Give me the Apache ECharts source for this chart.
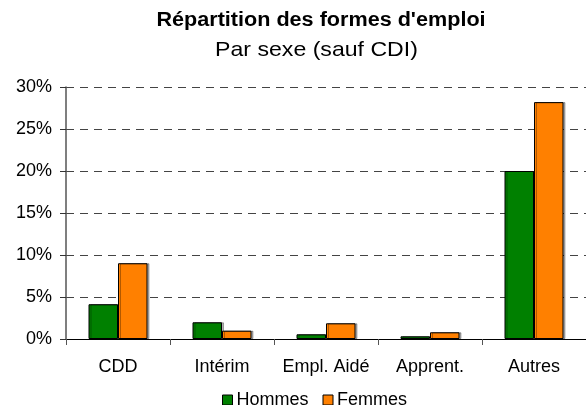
<!DOCTYPE html>
<html><head><meta charset="utf-8">
<script src="https://cdn.jsdelivr.net/npm/echarts@6/dist/echarts.min.js"></script>
<style>html,body{margin:0;padding:0;background:#fff}#c{width:586px;height:405px}</style>
</head><body><div id="c"></div>
<script>
const categories = ['CDD', 'Intérim', 'Empl. Aidé', 'Apprent.', 'Autres'];
const hommes = [4.14, 1.99, 0.56, 0.32, 20.0];
const femmes = [9.02, 0.99, 1.87, 0.8, 28.2];
const yTicks = [0, 5, 10, 15, 20, 25, 30];
const titleText = "Répartition des formes d'emploi";
const subtitleText = 'Par sexe (sauf CDI)';

const chart = echarts.init(document.getElementById('c'), null, {renderer: 'canvas'});
const font = 'Liberation Sans, Arial, sans-serif';
chart.setOption({
  animation: false,
  backgroundColor: '#fff',
  graphic: [
    {type: 'text', x: 321, y: 30, scaleX: 1.08,
     style: {text: titleText, font: 'bold 20px ' + font, fill: '#000', textAlign: 'center', textVerticalAlign: 'bottom'}},
    {type: 'text', x: 316.5, y: 61, scaleX: 1.1,
     style: {text: subtitleText, font: '21px ' + font, fill: '#000', textAlign: 'center', textVerticalAlign: 'bottom'}}
  ],
  legend: {
    data: ['Hommes', 'Femmes'], top: 391, left: 222, itemWidth: 10, itemHeight: 10, itemGap: 14,
    icon: 'rect', padding: 0,
    itemStyle: {borderColor: '#000', borderWidth: 1},
    textStyle: {fontFamily: font, fontSize: 18, color: '#000', padding: [0, 0, 0, -1]}
  },
  grid: {left: 66, top: 87, width: 524, height: 252, containLabel: false},
  xAxis: {
    type: 'category', data: categories,
    axisLine: {lineStyle: {color: '#000', width: 1}},
    axisTick: {show: true, length: 6, lineStyle: {color: '#555'}},
    axisLabel: {fontFamily: font, fontSize: 18, color: '#000', margin: 19, interval: 0, hideOverlap: false}
  },
  yAxis: {
    type: 'value', min: 0, max: 30, interval: 5,
    axisLine: {show: true, lineStyle: {color: '#555', width: 1.5}},
    axisTick: {show: true, length: 6, lineStyle: {color: '#333'}},
    axisLabel: {fontFamily: font, fontSize: 18, color: '#000', margin: 14,
      formatter: v => yTicks.includes(v) ? v + '%' : ''},
    splitLine: {show: true, lineStyle: {color: '#444', type: [8, 6], width: 1}}
  },
  series: [
    {name: 'Hommes', type: 'bar', data: hommes, barWidth: 29.5, barGap: '0%',
     itemStyle: {color: '#008000', borderColor: '#000', borderWidth: 1,
       shadowColor: 'rgba(0,0,0,0.3)', shadowOffsetX: 2, shadowOffsetY: 0}},
    {name: 'Femmes', type: 'bar', data: femmes, barWidth: 29.5, barGap: '0%',
     itemStyle: {color: '#FF8000', borderColor: '#000', borderWidth: 1,
       shadowColor: 'rgba(0,0,0,0.3)', shadowOffsetX: 2, shadowOffsetY: 0}}
  ]
});
</script></body></html>
